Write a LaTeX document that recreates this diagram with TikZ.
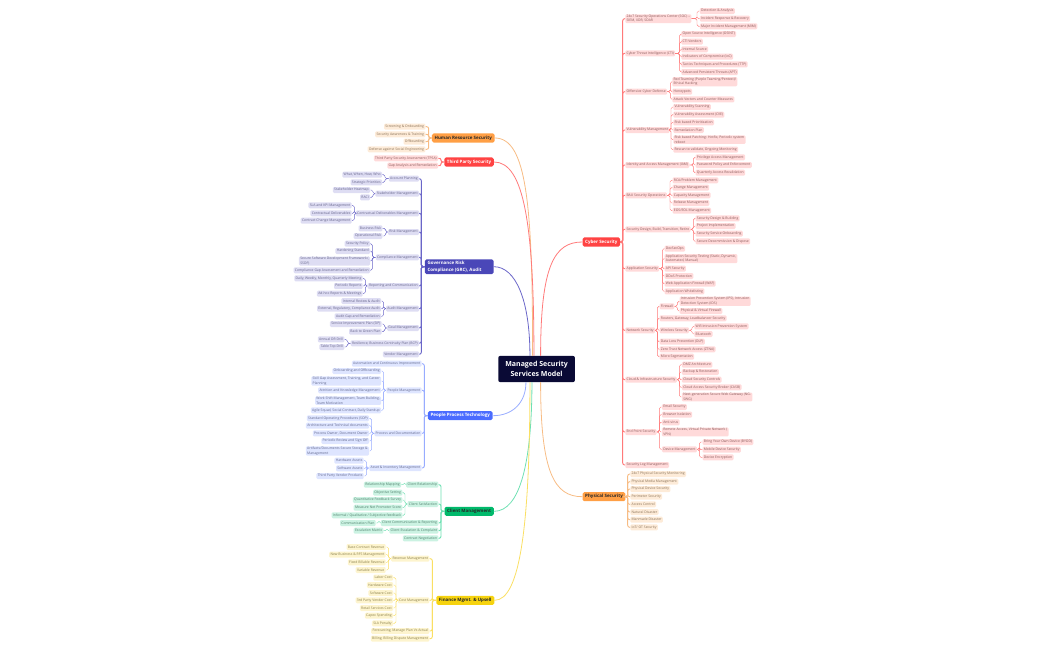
\documentclass[tikz,border=0pt]{standalone}
\usepackage{fontspec}
\setmainfont{Open Sans}
\definecolor{redmain}{HTML}{FF4343}\definecolor{redtint}{HTML}{FFDADA}\definecolor{redline}{HTML}{FF7A7A}\definecolor{redtext}{HTML}{8A5A5A}
\definecolor{ormain}{HTML}{FF9F45}\definecolor{ortint}{HTML}{FDEBD8}\definecolor{orline}{HTML}{F7BC84}\definecolor{ortext}{HTML}{8A7258}
\definecolor{pumain}{HTML}{4A47B8}\definecolor{putint}{HTML}{DEDDF3}\definecolor{puline}{HTML}{6A66C8}\definecolor{putext}{HTML}{65648A}
\definecolor{blmain}{HTML}{4A6CFF}\definecolor{bltint}{HTML}{DEE5FF}\definecolor{blline}{HTML}{98ACFF}\definecolor{bltext}{HTML}{62688E}
\definecolor{grmain}{HTML}{00B96B}\definecolor{grtint}{HTML}{CBF2E2}\definecolor{grline}{HTML}{6FE0B3}\definecolor{grtext}{HTML}{4F7F6C}
\definecolor{yemain}{HTML}{F6D30F}\definecolor{yetint}{HTML}{FDF4CE}\definecolor{yeline}{HTML}{FADF63}\definecolor{yetext}{HTML}{8A7F4A}
\definecolor{rootfill}{HTML}{0A0A35}
\def\cur{red}
\tikzset{
  base/.style={rounded corners=0.9pt,inner xsep=1pt,inner ysep=0.5pt,minimum height=4.5pt,align=left,font=\fontsize{2.55}{3.4}\selectfont,fill=\cur tint,text=\cur text},
  wire/.style={draw=\cur line,line width=0.35pt,rounded corners=1.2pt},
  trunk/.style={draw=\cur line,line width=0.7pt,rounded corners=1.5pt},
  mainbox/.style={rounded corners=1.2pt,inner xsep=2pt,inner ysep=1.4pt,align=left,font=\fontsize{3.35}{5}\selectfont\bfseries,fill=\cur main,minimum height=6.8pt},
  rootbox/.style={rounded corners=1.5pt,fill=rootfill,text=white,align=center,font=\fontsize{5.25}{8}\selectfont\bfseries,minimum width=57.5pt,minimum height=19.7pt,inner sep=0pt},
  stem/.style={line width=0.6pt,line cap=round}
}
% right side: name, parent, spine x, left x, y, text
\newcommand{\Rn}[6]{\node[base,anchor=west] (#1) at (#4,#5) {#6};
  \draw[wire] (#2.east) -- (#3,0 |- #2.east) -- (#3,0 |- #1.west) -- (#1.west);}
\newcommand{\Rt}[6]{\node[base,anchor=west] (#1) at (#4,#5) {#6};
  \draw[trunk] (#2.east) -- (#3,0 |- #2.east) -- (#3,0 |- #1.west) -- (#1.west);}
% left side: name, parent, spine x, right x, y, text
\newcommand{\Ln}[6]{\node[base,anchor=east] (#1) at (#4,#5) {#6};
  \draw[wire] (#2.west) -- (#3,0 |- #2.west) -- (#3,0 |- #1.east) -- (#1.east);}
\newcommand{\Lt}[6]{\node[base,anchor=east] (#1) at (#4,#5) {#6};
  \draw[trunk] (#2.west) -- (#3,0 |- #2.west) -- (#3,0 |- #1.east) -- (#1.east);}
% main node: name, left, width, y, text colour, text
\newcommand{\Mn}[6]{\node[mainbox,anchor=west,minimum width=#3*0.75pt,text=#5] (#1) at (#2,#4) {#6};}
\begin{document}
\begin{tikzpicture}[x=0.75pt,y=-0.75pt]
\useasboundingbox (0,0) rectangle (1050,650);
\node[rootbox,anchor=center] (root) at (536.6,369) {Managed Security\\Services Model};
%% CYBER
\def\cur{red}
\Mn{cyber}{582.3}{37}{242}{white}{Cyber Security}
\Rt{soc}{cyber}{622.7}{625}{18.7}{24x7 Security Operations Center (SOC) –\\SIEM, XDR, SOAR}
\Rn{soca}{soc}{697}{699.5}{11}{Detection \& Analysis}
\Rn{socb}{soc}{697}{699.5}{18.7}{Incident Response \& Recovery}
\Rn{socc}{soc}{697}{699.5}{26.3}{Major Incident Management (MIM)}
\Rt{cti}{cyber}{622.7}{625}{53.3}{Cyber Threat Intelligence (CTI)}
\Rn{ctia}{cti}{679.7}{681}{34}{Open Source Intelligence (OSINT)}
\Rn{ctib}{cti}{679.7}{681}{41.7}{CTI Vendors}
\Rn{ctic}{cti}{679.7}{681}{49.3}{Internal Source}
\Rn{ctid}{cti}{679.7}{681}{56.7}{Indicators of Compromise (IoC)}
\Rn{ctie}{cti}{679.7}{681}{64.3}{Tactics Techniques and Procedures (TTP)}
\Rn{ctif}{cti}{679.7}{681}{72}{Advanced Persistent Threats (APT)}
\Rt{ocd}{cyber}{622.7}{625}{91.7}{Offensive Cyber Defense}
\Rn{ocda}{ocd}{670.3}{672}{81.7}{Red Teaming (Purple Teaming/Pentest)/\\Ethical Hacking}
\Rn{ocdb}{ocd}{670.3}{672}{91.7}{Honeypots}
\Rn{ocdc}{ocd}{670.3}{672}{99.3}{Attack Vectors and Counter Measures}
\Rt{vm}{cyber}{622.7}{625}{130}{Vulnerability Management}
\Rn{vma}{vm}{671}{673}{107}{Vulnerability Scanning}
\Rn{vmb}{vm}{671}{673}{114.7}{Vulnerability Assessment (CVE)}
\Rn{vmc}{vm}{671}{673}{122.3}{Risk based Prioritization}
\Rn{vmd}{vm}{671}{673}{130}{Remediation Plan}
\Rn{vme}{vm}{671}{673}{139.7}{Risk based Patching: Hotfix, Periodic system\\reboot}
\Rn{vmf}{vm}{671}{673}{149.7}{Rescan to validate, Ongoing Monitoring}
\Rt{iam}{cyber}{622.7}{625}{165}{Identity and Access Management (IAM)}
\Rn{iama}{iam}{693.3}{695.3}{157.3}{Privilege Access Management}
\Rn{iamb}{iam}{693.3}{695.3}{165}{Password Policy and Enforcement}
\Rn{iamc}{iam}{693.3}{695.3}{172.7}{Quarterly Access Revalidation}
\Rt{bau}{cyber}{622.7}{625}{195.3}{BAU Security Operations}
\Rn{baua}{bau}{670}{672.3}{180.3}{RCA/Problem Management}
\Rn{baub}{bau}{670}{672.3}{187.7}{Change Management}
\Rn{bauc}{bau}{670}{672.3}{195.3}{Capacity Management}
\Rn{baud}{bau}{670}{672.3}{203}{Release Management}
\Rn{baue}{bau}{670}{672.3}{210.7}{EOS/EOL Management}
\Rt{sd}{cyber}{622.7}{625}{229.3}{Security Design, Build, Transition, Retire}
\Rn{sda}{sd}{693.3}{695.3}{218.3}{Security Design \& Building}
\Rn{sdb}{sd}{693.3}{695.3}{226}{Project Implementation}
\Rn{sdc}{sd}{693.3}{695.3}{233.7}{Security Service Onboarding}
\Rn{sdd}{sd}{693.3}{695.3}{241.3}{Secure Decommission \& Dispose}
\Rt{app}{cyber}{622.7}{625}{268.7}{Application Security}
\Rn{appa}{app}{662.3}{664.3}{248.7}{DevSecOps}
\Rn{appb}{app}{662.3}{664.3}{258.7}{Application Security Testing (Static, Dynamic,\\Automated, Manual)}
\Rn{appc}{app}{662.3}{664.3}{268.7}{API Security}
\Rn{appd}{app}{662.3}{664.3}{276}{DDoS Protection}
\Rn{appe}{app}{662.3}{664.3}{283.7}{Web Application Firewall (WAF)}
\Rn{appf}{app}{662.3}{664.3}{291.3}{Application Whitelisting}
\Rt{net}{cyber}{622.7}{625}{330.3}{Network Security}
\Rn{fw}{net}{657.3}{659.3}{306.3}{Firewall}
\Rn{fwa}{fw}{677.3}{679.3}{301.3}{Intrusion Prevention System (IPS), Intrusion\\Detection System (IDS)}
\Rn{fwb}{fw}{677.3}{679.3}{311}{Physical \& Virtual Firewall}
\Rn{rt}{net}{657.3}{659.3}{318.3}{Routers, Gateway, Loadbalancer Security}
\Rn{wl}{net}{657.3}{659.3}{330.3}{Wireless Security}
\Rn{wla}{wl}{692}{694}{326.3}{Wifi Intrusion Prevention System}
\Rn{wlb}{wl}{692}{694}{334}{Bluetooth}
\Rn{dlp}{net}{657.3}{659.3}{341.7}{Data Loss Prevention (DLP)}
\Rn{ztna}{net}{657.3}{659.3}{349.3}{Zero Trust Network Access (ZTNA)}
\Rn{ms}{net}{657.3}{659.3}{356.7}{Micro Segmentation}
\Rt{cl}{cyber}{622.7}{625}{379.7}{Cloud \& Infrastructure Security}
\Rn{cla}{cl}{679.3}{681.7}{364.7}{DMZ Architecture}
\Rn{clb}{cl}{679.3}{681.7}{372}{Backup \& Restoration}
\Rn{clc}{cl}{679.3}{681.7}{379.7}{Cloud Security Controls}
\Rn{cld}{cl}{679.3}{681.7}{387.3}{Cloud Access Security Broker (CASB)}
\Rn{cle}{cl}{679.3}{681.7}{397}{Next-generation Secure Web Gateway (NG-\\SWG)}
\Rt{ep}{cyber}{622.7}{625}{432}{End Point Security}
\Rn{epa}{ep}{659.3}{661.7}{407}{Email Security}
\Rn{epb}{ep}{659.3}{661.7}{414.7}{Browser Isolation}
\Rn{epc}{ep}{659.3}{661.7}{422.3}{Anti-virus}
\Rn{epd}{ep}{659.3}{661.7}{432}{Remote Access, Virtual Private Network (\\VPN)}
\Rn{dm}{ep}{659.3}{661.7}{449.3}{Device Management}
\Rn{dma}{dm}{699.3}{702.3}{442}{Bring Your Own Device (BYOD)}
\Rn{dmb}{dm}{699.3}{702.3}{449.7}{Mobile Device Security}
\Rn{dmc}{dm}{699.3}{702.3}{457.3}{Device Encryption}
\Rt{slm}{cyber}{622.7}{625}{465}{Security Log Management}
%% PHYSICAL
\def\cur{or}
\Mn{phys}{582.3}{41.7}{496.7}{black!85}{Physical Security}
\Rt{pha}{phys}{627.7}{630}{474}{24x7 Physical Security Monitoring}
\Rt{phb}{phys}{627.7}{630}{481.7}{Physical Media Management}
\Rt{phc}{phys}{627.7}{630}{489}{Physical Device Security}
\Rt{phd}{phys}{627.7}{630}{496.7}{Perimeter Security}
\Rt{phe}{phys}{627.7}{630}{504.3}{Access Control}
\Rt{phf}{phys}{627.7}{630}{512}{Natural Disaster}
\Rt{phg}{phys}{627.7}{630}{519.7}{Manmade Disaster}
\Rt{phh}{phys}{627.7}{630}{527.3}{IoT/ OT Security}
%% HR
\Mn{hr}{431.7}{59.6}{138}{black!85}{Human Resource Security}
\Lt{hra}{hr}{428.7}{425.7}{126.7}{Screening \& Onboarding}
\Lt{hrb}{hr}{428.7}{425.7}{134.3}{Security Awareness \& Training}
\Lt{hrc}{hr}{428.7}{425.7}{141.7}{Offboarding}
\Lt{hrd}{hr}{428.7}{425.7}{149.3}{Defense against Social Engineering}
%% THIRD PARTY
\def\cur{red}
\Mn{tp}{444}{47}{162}{white}{Third Party Security}
\Lt{tpa}{tp}{441}{438.3}{158.3}{Third Party Security Assessment (TPSA)}
\Lt{tpb}{tp}{441}{438.3}{165.7}{Gap Analysis and Remediation}
%% GRC
\def\cur{pu}
\Mn{grc}{424.7}{67}{266.7}{white}{Governance Risk\\Compliance (GRC), Audit\hspace*{7pt}}
\Lt{acc}{grc}{421.3}{419.3}{178.7}{Account Planning}
\Ln{acca}{acc}{385}{382.3}{174.7}{What, When, How, Who}
\Ln{accb}{acc}{385}{382.3}{182.3}{Strategic Priorities}
\Lt{stk}{grc}{421.3}{419.3}{193.7}{Stakeholder Management}
\Ln{stka}{stk}{373}{370.3}{190}{Stakeholder Heatmap}
\Ln{stkb}{stk}{373}{370.3}{197.3}{RACI}
\Lt{con}{grc}{421.3}{419.3}{213.3}{Contractual Deliverables Management}
\Ln{cona}{con}{354.3}{352}{205.3}{SLA and KPI Management}
\Ln{conb}{con}{354.3}{352}{213.3}{Contractual Deliverables}
\Ln{conc}{con}{354.3}{352}{220.7}{Contract Change Management}
\Lt{rsk}{grc}{421.3}{419.3}{232}{Risk Management}
\Ln{rska}{rsk}{385.7}{382.7}{228.3}{Business Risk}
\Ln{rskb}{rsk}{385.7}{382.7}{236}{Operational Risk}
\Lt{cpl}{grc}{421.3}{419.3}{257.3}{Compliance Management}
\Ln{cpla}{cpl}{372.3}{370.3}{243.7}{Security Policy}
\Ln{cplb}{cpl}{372.3}{370.3}{251}{Hardening Standard}
\Ln{cplc}{cpl}{372.3}{370.3}{261}{Secure Software Development Framework (\\SSDF)}
\Ln{cpld}{cpl}{372.3}{370.3}{270.3}{Compliance Gap Assessment and Remediation}
\Lt{rep}{grc}{421.3}{419.3}{286}{Reporting and Communication}
\Ln{repa}{rep}{365.3}{363}{278.3}{Daily, Weekly, Monthly, Quarterly Meeting}
\Ln{repb}{rep}{365.3}{363}{286}{Periodic Reports}
\Ln{repc}{rep}{365.3}{363}{293.7}{Ad-hoc Reports \& Meetings}
\Lt{aud}{grc}{421.3}{419.3}{308.7}{Audit Management}
\Ln{auda}{aud}{383.7}{381.3}{301}{Internal Review \& Audit}
\Ln{audb}{aud}{383.7}{381.3}{308.7}{External, Regulatory, Compliance Audit}
\Ln{audc}{aud}{383.7}{381.3}{316.3}{Audit Gap and Remediation}
\Lt{goal}{grc}{421.3}{419.3}{328}{Goal Management}
\Ln{goala}{goal}{384.7}{382}{324}{Service Improvement Plan (SIP)}
\Ln{goalb}{goal}{384.7}{382}{331.7}{Back to Green Plan}
\Lt{bcp}{grc}{421.3}{419.3}{343.3}{Resilience, Business Continuity Plan (BCP)}
\Ln{bcpa}{bcp}{347.3}{344.7}{339.3}{Annual DR Drill}
\Ln{bcpb}{bcp}{347.3}{344.7}{347}{Table Top Drill}
\Lt{ven}{grc}{421.3}{419.3}{354.3}{Vendor Management}
%% PEOPLE
\def\cur{bl}
\Mn{ppt}{427.7}{63.6}{415.7}{white}{People Process Technology}
\Lt{aut}{ppt}{424.3}{422}{363.7}{Automation and Continuous Improvement}
\Lt{pm}{ppt}{424.3}{422}{390.3}{People Management}
\Ln{pma}{pm}{383.7}{381.3}{371}{Onboarding and Offboarding}
\Ln{pmb}{pm}{383.7}{381.3}{381}{Skill Gap Assessment, Training, and Career\\Planning}
\Ln{pmc}{pm}{383.7}{381.3}{390.3}{Attrition and Knowledge Management}
\Ln{pmd}{pm}{383.7}{381.3}{400.7}{Work Shift Management, Team Building,\\Team Motivation}
\Ln{pme}{pm}{383.7}{381.3}{410.3}{Agile Squad, Social Contract, Daily Standup}
\Lt{pd}{ppt}{424.3}{422}{433.3}{Process and Documentation}
\Ln{pda}{pd}{371.7}{369.3}{418.3}{Standard Operating Procedures (SOP)}
\Ln{pdb}{pd}{371.7}{369.3}{425.7}{Architecture and Technical documents}
\Ln{pdc}{pd}{371.7}{369.3}{433.3}{Process Owner, Document Owner}
\Ln{pdd}{pd}{371.7}{369.3}{441}{Periodic Review and Sign Off}
\Ln{pde}{pd}{371.7}{369.3}{451}{Artifacts/Documents Secure Storage \&\\Management}
\Lt{ai}{ppt}{424.3}{422}{468}{Asset \& Inventory Management}
\Ln{aia}{ai}{366.7}{364}{460.7}{Hardware Assets}
\Ln{aib}{ai}{366.7}{364}{468.3}{Software Assets}
\Ln{aic}{ai}{366.7}{364}{476}{Third Party Vendor Products}
%% CLIENT
\def\cur{gr}
\Mn{cm}{444.3}{47}{511.3}{black!85}{Client Management}
\Lt{cr}{cm}{441}{438.7}{484.7}{Client Relationship}
\Ln{cra}{cr}{404.5}{401.3}{484.7}{Relationship Mapping}
\Lt{cs}{cm}{441}{438.7}{504}{Client Satisfaction}
\Ln{csa}{cs}{405}{402.7}{492.7}{Objective Setting}
\Ln{csb}{cs}{405}{402.7}{500}{Quantitative Feedback Survey}
\Ln{csc}{cs}{405}{402.7}{507.7}{Measure Net Promoter Score}
\Ln{csd}{cs}{405}{402.7}{515.3}{Informal / Qualitative / Subjective feedback}
\Lt{cc}{cm}{441}{438.7}{523}{Client Communication \& Reporting}
\Ln{cca}{cc}{379}{376}{523}{Communication Plan}
\Lt{ce}{cm}{441}{438.7}{530.7}{Client Escalation \& Complaint}
\Ln{cea}{ce}{387}{383.7}{530.7}{Escalation Matrix}
\Lt{cn}{cm}{441}{438.7}{538.3}{Contract Negotiation}
%% FINANCE
\def\cur{ye}
\Mn{fin}{436}{55}{600.3}{black!85}{Finance Mgmt. \& Upsell}
\Lt{rev}{fin}{432.3}{429.7}{558.7}{Revenue Management}
\Ln{reva}{rev}{388.7}{386}{547}{Base Contract Revenue}
\Ln{revb}{rev}{388.7}{386}{554.7}{New Business \& RFS Management}
\Ln{revc}{rev}{388.7}{386}{562.3}{Fixed Billable Revenue}
\Ln{revd}{rev}{388.7}{386}{570}{Variable Revenue}
\Lt{cost}{fin}{432.3}{429.7}{600.3}{Cost Management}
\Ln{costa}{cost}{396}{393.3}{577.7}{Labor Cost}
\Ln{costb}{cost}{396}{393.3}{585}{Hardware Cost}
\Ln{costc}{cost}{396}{393.3}{593}{Software Cost}
\Ln{costd}{cost}{396}{393.3}{600.3}{3rd Party Vendor Cost}
\Ln{coste}{cost}{396}{393.3}{608}{Retail Services Cost}
\Ln{costf}{cost}{396}{393.3}{615.7}{Capex Spending}
\Ln{costg}{cost}{396}{393.3}{623.3}{SLA Penalty}
\Lt{fc}{fin}{432.3}{429.7}{631}{Forecasting, Manage Plan Vs Actual}
\Lt{bl}{fin}{432.3}{429.7}{638.7}{Billing, Billing Dispute Management}
%% ROOT CONNECTORS
\draw[stem,draw=redline] ([xshift=3pt]root.north) .. controls +(0,-90) and +(-28,0) .. (cyber.west);
\draw[stem,draw=orline] ([xshift=3pt]root.south) .. controls +(0,90) and +(-28,0) .. (phys.west);
\draw[stem,draw=orline] ([xshift=-3pt]root.north) .. controls +(0,-150) and +(32,0) .. (hr.east);
\draw[stem,draw=redline] ([xshift=-2pt]root.north) .. controls +(0,-130) and +(30,0) .. (tp.east);
\draw[stem,draw=puline] ([xshift=-5pt]root.north) .. controls +(0,-55) and +(22,0) .. (grc.east);
\draw[stem,draw=blline] ([xshift=-8pt]root.south) .. controls +(0,20) and +(20,0) .. (ppt.east);
\draw[stem,draw=grline] ([xshift=-3.5pt]root.south) .. controls +(0,80) and +(26,0) .. (cm.east);
\draw[stem,draw=yeline] ([xshift=-5pt]root.south) .. controls +(0,140) and +(26,0) .. (fin.east);
\end{tikzpicture}
\end{document}
